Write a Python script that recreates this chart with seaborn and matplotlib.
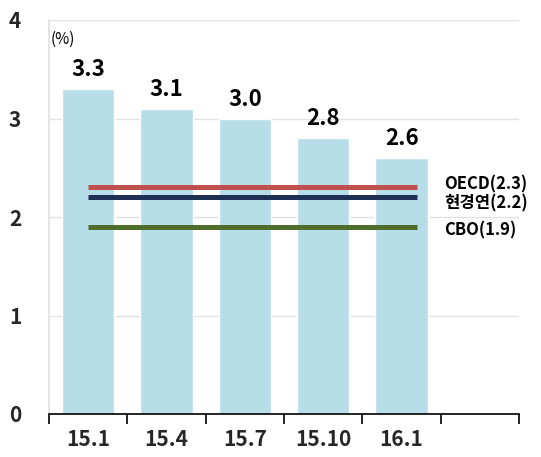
import matplotlib
matplotlib.use("Agg")
import matplotlib.pyplot as plt
import seaborn as sns
import pandas as pd
import numpy as np

# Data
periods = ["15.1", "15.4", "15.7", "15.10", "16.1"]
growth = [3.3, 3.1, 3.0, 2.8, 2.6]
ref_names = ["OECD", "현경연", "CBO"]
ref_values = [2.3, 2.2, 1.9]
ref_colors = ["#c0504d", "#1f3055", "#4f6d2b"]
y_ticks = [0, 1, 2, 3, 4]

sns.set_theme(style="white")
plt.rcParams["font.family"] = ["Noto Sans CJK KR", "DejaVu Sans"]

df = pd.DataFrame({"period": periods, "growth": growth})
order = periods + [" "]

fig = plt.figure(figsize=(5.41, 4.57), dpi=100)
ax = fig.add_axes([49 / 541, 43 / 457, 470 / 541, 394 / 457])

sns.barplot(data=df, x="period", y="growth", order=order, color="#b7dde8",
            saturation=1, width=0.67, ax=ax, zorder=2)

ax.set_xlim(-0.5, len(order) - 0.5)
ax.set_ylim(0, 4)

# light horizontal gridlines
for y in y_ticks[1:]:
    ax.axhline(y, color="#e2e2e2", lw=1, zorder=0)

# value labels above bars
for i, v in enumerate(growth):
    ax.text(i, v + 0.08, f"{v:.1f}", ha="center", va="bottom",
            fontsize=16, fontweight="bold", color="black")

# reference forecast lines
for name, val, col in zip(ref_names, ref_values, ref_colors):
    ax.plot([0, 4.2], [val, val], color=col, lw=3.6, solid_capstyle="butt", zorder=3)

label_y = [2.33, 2.14, 1.86]
for name, val, ly in zip(ref_names, ref_values, label_y):
    ax.text(4.55, ly, f"{name}({val})", ha="left", va="center",
            fontsize=12, fontweight="bold", color="black", clip_on=False)

ax.text(-0.48, 3.8, "(%)", fontsize=11, ha="left", va="center", color="black")

# axes styling
for s in ["top", "right"]:
    ax.spines[s].set_visible(False)
ax.spines["left"].set_color("#e2e2e2")
ax.spines["bottom"].set_color("black")
ax.spines["bottom"].set_linewidth(1.2)

ax.set_xticks(np.arange(-0.5, len(order), 1.0))
ax.set_xticklabels([])
ax.set_xticks(range(len(periods)), minor=True)
ax.set_xticklabels(periods, minor=True, fontsize=15, fontweight="bold")
ax.tick_params(axis="x", which="major", direction="out", length=7, width=1.2,
               color="black", bottom=True)
ax.tick_params(axis="x", which="minor", length=0, pad=11)

ax.set_yticks(y_ticks)
ax.set_yticklabels([str(t) for t in y_ticks], fontsize=15, fontweight="bold")
ax.tick_params(axis="y", length=0, pad=20)

ax.set_xlabel("")
ax.set_ylabel("")

fig.savefig("out.png", dpi=100)
